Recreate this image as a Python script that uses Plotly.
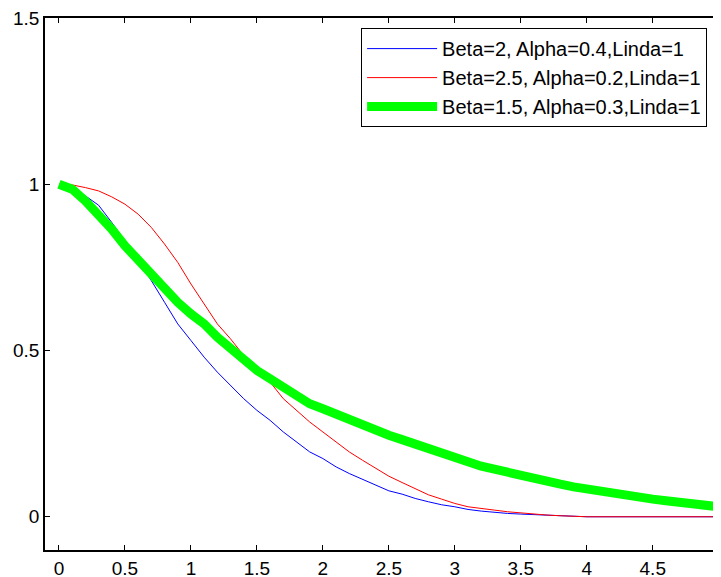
import plotly.graph_objects as go

x_vals = [round(i * 0.1, 1) for i in range(51)]

blue_y = [1.0, 0.99, 0.965, 0.937, 0.885, 0.83, 0.77, 0.71, 0.645, 0.58,
          0.53, 0.48, 0.435, 0.395, 0.355, 0.32, 0.29, 0.255, 0.225, 0.195,
          0.175, 0.15, 0.13, 0.113, 0.095, 0.078, 0.068, 0.055, 0.045, 0.036,
          0.03, 0.022, 0.017, 0.013, 0.01, 0.008, 0.006, 0.004, 0.002, 0.0,
          0.0, 0.0, 0.0, 0.0, 0.0, 0.0, 0.0, 0.0, 0.0, 0.0, 0.0]

red_y = [1.0, 0.998, 0.99, 0.98, 0.962, 0.94, 0.91, 0.87, 0.82, 0.765,
         0.70, 0.64, 0.58, 0.535, 0.485, 0.44, 0.405, 0.355, 0.32, 0.285,
         0.255, 0.225, 0.195, 0.17, 0.145, 0.122, 0.103, 0.085, 0.066, 0.053,
         0.04, 0.03, 0.024, 0.02, 0.015, 0.011, 0.007, 0.005, 0.003, 0.001,
         0.0, 0.0, 0.0, 0.0, 0.0, 0.0, 0.0, 0.0, 0.0, 0.0, 0.0]

green_y = [1.0, 0.985, 0.95, 0.91, 0.865, 0.815, 0.77, 0.725, 0.685, 0.645,
           0.61, 0.58, 0.54, 0.505, 0.47, 0.44, 0.415, 0.39, 0.365, 0.34,
           0.325, 0.308, 0.292, 0.277, 0.26, 0.245, 0.232, 0.218, 0.205, 0.19,
           0.178, 0.163, 0.152, 0.143, 0.133, 0.124, 0.115, 0.107, 0.098, 0.09,
           0.083, 0.077, 0.068, 0.062, 0.058, 0.053, 0.048, 0.043, 0.038, 0.034,
           0.03]

names = ["Beta=2, Alpha=0.4,Linda=1",
         "Beta=2.5, Alpha=0.2,Linda=1",
         "Beta=1.5, Alpha=0.3,Linda=1"]

x_ticks = [0, 0.5, 1, 1.5, 2, 2.5, 3, 3.5, 4, 4.5, 5]
x_tick_labels = ["0", "0.5", "1", "1.5", "2", "2.5", "3", "3.5", "4", "4.5", "5"]
y_ticks = [0, 0.5, 1, 1.5]
y_tick_labels = ["0", "0.5", "1", "1.5"]

fig = go.Figure()
fig.add_trace(go.Scatter(x=x_vals, y=blue_y, mode="lines", name=names[0],
                         line=dict(color="#0000ff", width=1)))
fig.add_trace(go.Scatter(x=x_vals, y=red_y, mode="lines", name=names[1],
                         line=dict(color="#ff0000", width=1)))
fig.add_trace(go.Scatter(x=x_vals, y=green_y, mode="lines", name=names[2],
                         line=dict(color="#00ff00", width=9)))

font = dict(family="Liberation Sans, Arial, sans-serif", size=19, color="#000000")

# the page body has an 8px margin, so the figure is sized to fill the rest of the window
fig.update_layout(
    width=713, height=569,
    margin=dict(l=37, r=2, t=10, b=27, autoexpand=False),
    paper_bgcolor="white", plot_bgcolor="white",
    font=font,
    showlegend=True,
    legend=dict(x=0.469, y=0.981, xanchor="left", yanchor="top",
                bgcolor="white", bordercolor="#000000", borderwidth=1,
                font=dict(family="Liberation Sans, Arial, sans-serif", size=20),
                itemwidth=70, entrywidth=270, entrywidthmode="pixels",
                tracegroupgap=0),
)
fig.update_xaxes(range=[-0.106, 5.002], tickvals=x_ticks, ticktext=x_tick_labels,
                 ticks="inside", ticklen=5, tickcolor="#000000",
                 showline=True, linecolor="#000000", linewidth=1.5,
                 mirror="allticks", showgrid=False, zeroline=False,
                 automargin=False, ticklabeloverflow="allow")
fig.update_yaxes(range=[-0.1, 1.5], tickvals=y_ticks, ticktext=y_tick_labels,
                 ticks="inside", ticklen=5, tickcolor="#000000",
                 showline=True, linecolor="#000000", linewidth=1.5,
                 mirror="allticks", showgrid=False, zeroline=False,
                 automargin=False, ticklabeloverflow="allow")

fig.write_html("out.html")
